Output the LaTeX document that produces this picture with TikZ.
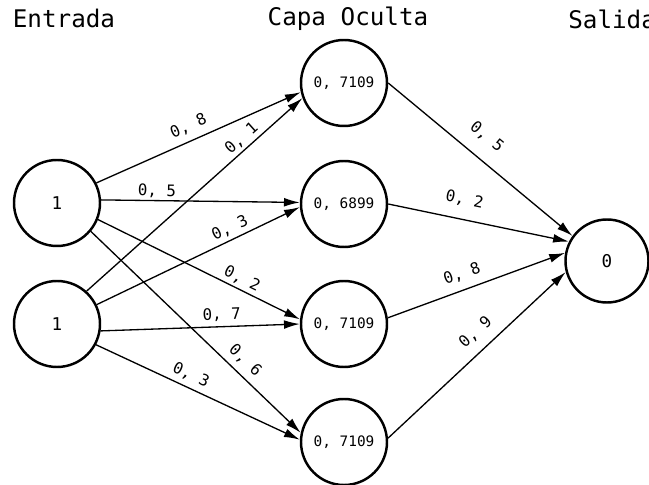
\documentclass[tikz,border=0pt]{standalone}
\usepackage{fontspec}
\setmonofont{DejaVu Sans Mono}
\usetikzlibrary{arrows.meta}

\begin{document}
\begin{tikzpicture}[
    >={Latex[length=9pt,width=5pt]},
    neuron/.style={
        circle,
        draw,
        line width=1.4pt,
        minimum size=1.72cm,
        inner sep=0pt,
        font=\ttfamily\fontsize{10}{12}\selectfont
    },
    hidden/.style={neuron, font=\ttfamily\fontsize{8.2}{10}\selectfont},
    layer/.style={font=\ttfamily\fontsize{13.8}{16}\selectfont, inner sep=0pt},
    link/.style={->, line width=0.75pt},
    weight/.style={font=\ttfamily\fontsize{9}{10}\selectfont, sloped, inner sep=1pt}
]
\useasboundingbox (0,0) rectangle (12.98,9.7);

% layer titles
\node[layer] (tIn) at (1.28,9.33) {Entrada};
\node[layer] (tHid) at (6.96,9.32) {Capa Oculta};
\node[layer, anchor=west] (tOut) at (11.36,9.32) {Salida};

% neurons
\node[neuron] (I1) at (1.14,5.64) {1};
\node[neuron] (I2) at (1.14,3.22) {1};

\node[hidden] (H1) at (6.88,8.04) {0, 7109};
\node[hidden] (H2) at (6.88,5.62) {0, 6899};
\node[hidden] (H3) at (6.88,3.22) {0, 7109};
\node[hidden] (H4) at (6.88,0.86) {0, 7109};

\node[neuron, minimum size=1.66cm] (O) at (12.14,4.48) {0};

% input -> hidden
\draw[link] (I1.27) -- node[weight, pos=0.48, above=3pt] {0, 8} (H1.192);
\draw[link] (I2.48) -- node[weight, pos=0.75, above=0.5pt] {0, 1} (H1.200);
\draw[link] (I1.4) -- node[weight, pos=0.28, above=0pt] {0, 5} (H2.178);
\draw[link] (I2.26) -- node[weight, pos=0.68, above=1pt] {0, 3} (H2.184);
\draw[link] (I1.-22) -- node[weight, pos=0.69, above=0.6pt] {0, 2} (H3.174);
\draw[link] (I2.-9) -- node[weight, pos=0.61, above=1.4pt] {0, 7} (H3.180);
\draw[link] (I1.-40) -- node[weight, pos=0.69, above=2.5pt] {0, 6} (H4.168);
\draw[link] (I2.-28) -- node[weight, pos=0.44, above=1.7pt] {0, 3} (H4.177);

% hidden -> output
\draw[link] (H1.0) -- node[weight, pos=0.46, above=7pt] {0, 5} (O.144);
\draw[link] (H2.0) -- node[weight, pos=0.40, above=6pt] {0, 2} (O.153);
\draw[link] (H3.8) -- node[weight, pos=0.45, above=3.6pt] {0, 8} (O.169);
\draw[link] (H4.5) -- node[weight, pos=0.56, above=4.6pt] {0, 9} (O.195);

\end{tikzpicture}
\end{document}
